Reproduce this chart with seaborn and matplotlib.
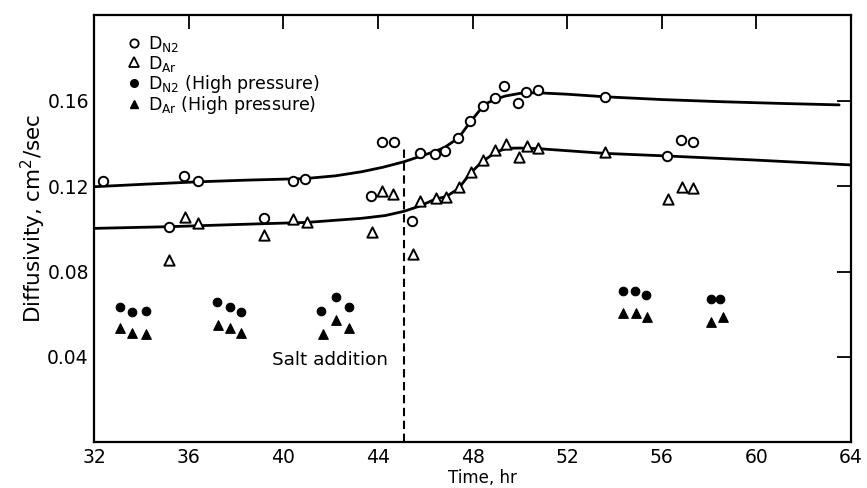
import matplotlib
matplotlib.use("Agg")
import matplotlib.pyplot as plt
import seaborn as sns
import pandas as pd
from matplotlib.lines import Line2D

# ---------------- data ----------------
n2_time = [32.36, 35.81, 36.40, 40.42, 40.91, 44.16, 44.68, 45.78, 46.41, 46.84,
           47.40, 47.89, 48.43, 48.96, 49.33, 49.90, 50.25, 50.76, 53.58, 56.81,
           57.34, 56.21, 35.17, 39.18, 43.70, 45.45]
n2_diff = [0.1224, 0.1247, 0.1224, 0.1224, 0.1232, 0.1408, 0.1408, 0.1353, 0.1350, 0.1366,
           0.1427, 0.1505, 0.1575, 0.1614, 0.1670, 0.1590, 0.1642, 0.1650, 0.1616, 0.1416,
           0.1408, 0.1341, 0.1010, 0.1052, 0.1154, 0.1038]

ar_time = [35.17, 35.84, 36.40, 39.18, 40.42, 40.98, 43.75, 44.16, 44.65, 45.49,
           45.78, 46.44, 46.87, 47.43, 47.93, 48.43, 48.95, 49.40, 49.94, 50.29,
           50.78, 53.58, 56.28, 56.84, 57.34]
ar_diff = [0.0854, 0.1057, 0.1029, 0.0971, 0.1046, 0.1033, 0.0986, 0.1178, 0.1163, 0.0882,
           0.1132, 0.1143, 0.1150, 0.1194, 0.1267, 0.1322, 0.1369, 0.1397, 0.1338, 0.1388,
           0.1377, 0.1358, 0.1138, 0.1194, 0.1190]

n2_hp_time = [33.09, 33.58, 34.19, 37.18, 37.74, 38.21, 41.59, 42.23, 42.75,
              54.38, 54.87, 55.34, 58.07, 58.47]
n2_hp_diff = [0.0633, 0.0612, 0.0615, 0.0656, 0.0633, 0.0609, 0.0617, 0.0682, 0.0633,
              0.0710, 0.0710, 0.0690, 0.0670, 0.0670]

ar_hp_time = [33.09, 33.58, 34.19, 37.25, 37.74, 38.21, 41.69, 42.23, 42.79,
              54.38, 54.91, 55.37, 58.09, 58.57]
ar_hp_diff = [0.0534, 0.0511, 0.0507, 0.0550, 0.0534, 0.0511, 0.0506, 0.0573, 0.0534,
              0.0604, 0.0607, 0.0589, 0.0565, 0.0586]

n2_curve_time = [32.0, 34.0, 36.4, 38.5, 40.9, 42.2, 43.3, 44.2, 45.1, 45.8, 46.4, 46.8,
                 47.4, 47.9, 48.3, 48.6, 49.0, 49.4, 50.0, 50.7, 52.0, 53.6, 56.0, 58.5,
                 61.0, 63.5]
n2_curve_diff = [0.1197, 0.1208, 0.1220, 0.1228, 0.1235, 0.1248, 0.1267, 0.1288, 0.1314,
                 0.1340, 0.1362, 0.1380, 0.1425, 0.1500, 0.1555, 0.1588, 0.1608, 0.1622,
                 0.1634, 0.1637, 0.1630, 0.1618, 0.1605, 0.1595, 0.1587, 0.1580]

ar_curve_time = [32.0, 35.2, 38.0, 41.0, 43.3, 44.3, 45.1, 45.8, 46.4, 46.9, 47.4, 47.9,
                 48.4, 49.0, 49.45, 50.0, 50.8, 53.6, 56.2, 59.9, 64.0]
ar_curve_diff = [0.1002, 0.1010, 0.1020, 0.1030, 0.1049, 0.1062, 0.1082, 0.1108, 0.1138,
                 0.1152, 0.1188, 0.1260, 0.1314, 0.1360, 0.1377, 0.1378, 0.1375, 0.1353,
                 0.1341, 0.1322, 0.1299]

salt_time = 45.1
salt_top = 0.138

x_ticks = [32, 36, 40, 44, 48, 52, 56, 60, 64]
y_ticks = [0.04, 0.08, 0.12, 0.16]
y_tick_labels = ["0.04", "0.08", "0.12", "0.16"]

legend_labels = [r"D$_{\mathregular{N2}}$", r"D$_{\mathregular{Ar}}$",
                 r"D$_{\mathregular{N2}}$ (High pressure)",
                 r"D$_{\mathregular{Ar}}$ (High pressure)"]

# ---------------- plot ----------------
sns.set_theme(style="white")
plt.rcParams["font.family"] = ["DejaVu Sans"]
plt.rcParams["text.color"] = "black"
plt.rcParams["axes.labelcolor"] = "black"
plt.rcParams["xtick.color"] = "black"
plt.rcParams["ytick.color"] = "black"

fig = plt.figure(figsize=(8.67, 4.88), dpi=100)
ax = fig.add_axes([0.1088, 0.0934, 0.9815 - 0.1088, 0.9689 - 0.0934])

curves = pd.concat([
    pd.DataFrame({"t": n2_curve_time, "d": n2_curve_diff, "s": "n2"}),
    pd.DataFrame({"t": ar_curve_time, "d": ar_curve_diff, "s": "ar"}),
])
sns.lineplot(data=curves, x="t", y="d", units="s", estimator=None, sort=False,
             color="black", lw=2.0, ax=ax)

salt = pd.DataFrame({"t": [salt_time, salt_time], "d": [0.0, salt_top]})
sns.lineplot(data=salt, x="t", y="d", estimator=None, sort=False, color="black",
             lw=1.5, linestyle=(0, (4, 2.2)), ax=ax)

sns.scatterplot(x=n2_time, y=n2_diff, marker="o", s=46, facecolor="white",
                edgecolor="black", linewidth=1.4, ax=ax, zorder=3)
sns.scatterplot(x=ar_time, y=ar_diff, marker="^", s=55, facecolor="white",
                edgecolor="black", linewidth=1.4, ax=ax, zorder=3)
sns.scatterplot(x=n2_hp_time, y=n2_hp_diff, marker="o", s=38, color="black",
                edgecolor="black", linewidth=0.8, ax=ax, zorder=3)
sns.scatterplot(x=ar_hp_time, y=ar_hp_diff, marker="^", s=48, color="black",
                edgecolor="black", linewidth=0.8, ax=ax, zorder=3)

ax.text(39.5, 0.0386, "Salt addition", fontsize=13.2, va="center", ha="left",
        color="black")

ax.set_xlim(32, 64)
ax.set_ylim(0, 0.20)
ax.set_xticks(x_ticks)
ax.set_yticks(y_ticks)
ax.set_yticklabels(y_tick_labels)
ax.tick_params(direction="in", length=10, width=1.3, top=True, right=True,
               labelsize=13.5, colors="black", pad=4)
ax.tick_params(axis="x", labeltop=False)
ax.tick_params(axis="y", labelright=False)
for sp in ax.spines.values():
    sp.set_color("black")
    sp.set_linewidth(1.6)

ax.set_xlabel("Time, hr", fontsize=12)
ax.xaxis.set_label_coords(0.513, -0.063)
ax.set_ylabel(r"Diffusivity, cm$^{\mathregular{2}}$/sec", fontsize=15.5)
ax.yaxis.set_label_coords(-0.061, 0.525)

handles = [
    Line2D([], [], marker="o", ls="none", mfc="white", mec="black", mew=1.3, ms=6),
    Line2D([], [], marker="^", ls="none", mfc="white", mec="black", mew=1.3, ms=6.5),
    Line2D([], [], marker="o", ls="none", mfc="black", mec="black", ms=5.5),
    Line2D([], [], marker="^", ls="none", mfc="black", mec="black", ms=6),
]
leg = ax.legend(handles, legend_labels, loc="upper left", frameon=False, fontsize=12.5,
                bbox_to_anchor=(0.042, 0.955), borderaxespad=0, borderpad=0,
                labelspacing=-0.05, handlelength=0.9, handletextpad=0.35)
for t in leg.get_texts():
    t.set_color("black")

fig.savefig("out.png", dpi=100, facecolor="white")
